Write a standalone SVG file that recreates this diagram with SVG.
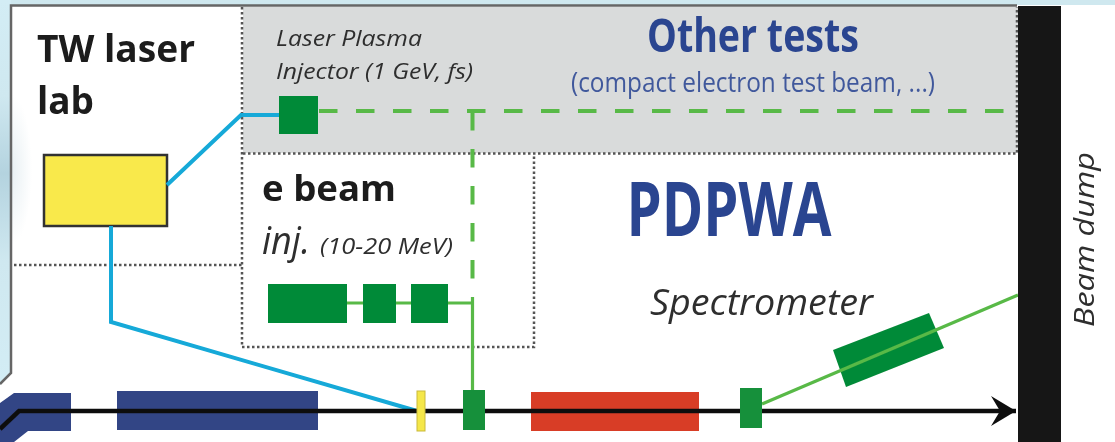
<svg xmlns="http://www.w3.org/2000/svg" width="1115" height="442" viewBox="0 0 1115 442">
<defs>
<linearGradient id="sky" x1="0" x2="0" y1="0" y2="1"><stop offset="0" stop-color="#d3edf5"/><stop offset="0.25" stop-color="#cfe8f0"/><stop offset="0.45" stop-color="#b4d3df"/><stop offset="0.68" stop-color="#cfe8f0"/><stop offset="1" stop-color="#d3edf5"/></linearGradient>
<radialGradient id="glow" cx="0" cy="0.5" r="0.5"><stop offset="0" stop-color="#e8f0f3"/><stop offset="1" stop-color="#fff"/></radialGradient>
<marker id="arrow" markerUnits="userSpaceOnUse" markerWidth="27" markerHeight="32" refX="25" refY="15" orient="auto"><path d="M0 0 L25 15 L0 30 L9 15 Z" fill="#111"/></marker>
<filter id="soft" x="0" y="0" width="1115" height="442" filterUnits="userSpaceOnUse"><feGaussianBlur stdDeviation="0.55"/></filter>
</defs>
<style>
.sans{font-family:"Open Sans","Noto Sans","Liberation Sans",sans-serif}
.cond{fill:#2b4590;font-weight:700}
.bold{font-weight:700;fill:#1a1a1a}
.ital{font-style:italic;fill:#2e2e2e}
.dot{fill:none;stroke:#555;stroke-width:2.5;stroke-dasharray:2.5 2.5}
.green{fill:#068a38}
.gline{fill:none;stroke:#58b947;stroke-width:3.2}
.gdash{fill:none;stroke:#58b947;stroke-width:4;stroke-dasharray:18.500 18.500}
.blue{fill:none;stroke:#12a9d8;stroke-width:4}
.navy{fill:#334485}
</style>
<g filter="url(#soft)">
<rect width="1115" height="442" fill="#fff"/>
<rect width="1115" height="5" fill="#cfe8ef"/>
<path d="M0 0H11V372L0 385Z" fill="url(#sky)"/>
<rect x="12" y="95" width="40" height="150" fill="url(#glow)"/>
<g id="frame"><path d="M1017 5.500H11V373L0 384" fill="none" stroke="#666" stroke-width="2.500"/></g>
<g id="other-tests">
<rect x="243" y="7" width="775" height="146" fill="#d9dbdb"/>
<text x="753" y="52" text-anchor="middle" class="sans cond" font-size="46" textLength="212" lengthAdjust="spacingAndGlyphs">Other tests</text>
<text x="753" y="92" text-anchor="middle" class="sans" fill="#41599c" font-size="27" textLength="364" lengthAdjust="spacingAndGlyphs">(compact electron test beam, ...)</text>
</g>
<g id="region-lines">
<path class="dot" d="M242 7V347H534V154"/>
<path class="dot" d="M243 153.500H1017V7"/>
<path class="dot" d="M14 265H242"/>
</g>
<g id="tw-laser-lab">
<text x="37" y="62" class="sans bold" font-size="37" textLength="158" lengthAdjust="spacingAndGlyphs">TW laser</text>
<text x="37" y="114" class="sans bold" font-size="37" textLength="57" lengthAdjust="spacingAndGlyphs">lab</text>
<rect x="44" y="155" width="123" height="71" fill="#f9e94c" stroke="#333" stroke-width="2.500"/>
</g>
<g id="laser-plasma-injector">
<text x="276" y="46" class="sans ital" font-size="22" textLength="146" lengthAdjust="spacingAndGlyphs">Laser Plasma</text>
<text x="276" y="79" class="sans ital" font-size="22" textLength="197" lengthAdjust="spacingAndGlyphs">Injector (1 GeV, fs)</text>
<rect x="279" y="96" width="39" height="38" class="green"/>
</g>
<g id="e-beam-injector">
<text x="262" y="201" class="sans bold" font-size="36" textLength="134" lengthAdjust="spacingAndGlyphs">e beam</text>
<text x="262" y="254" class="sans ital" font-size="38" textLength="48" lengthAdjust="spacingAndGlyphs">inj.</text>
<text x="320" y="254" class="sans ital" font-size="21" textLength="133" lengthAdjust="spacingAndGlyphs">(10-20 MeV)</text>
<rect x="268" y="284" width="79" height="39" class="green"/>
<rect x="363" y="284" width="33" height="39" class="green"/>
<rect x="411" y="284" width="37" height="39" class="green"/>
</g>
<g id="pdpwa"><text x="729" y="236" text-anchor="middle" class="sans cond" font-size="75" textLength="205" lengthAdjust="spacingAndGlyphs">PDPWA</text></g>
<g id="spectrometer">
<text x="650" y="315" class="sans ital" font-size="36" textLength="223" lengthAdjust="spacingAndGlyphs">Spectrometer</text>
<polygon points="833,350 929,313 944,348 846,387" class="green"/>
</g>
<g id="beamline">
<path class="navy" d="M0 403L14 393H71V431H28L14 442H0Z"/>
<rect x="117" y="391" width="201" height="39" class="navy"/>
<rect x="531" y="392" width="168" height="39" fill="#d83d26"/>
</g>
<g id="connectors">
<path class="blue" d="M167 185L241 115H279"/>
<path class="blue" d="M111 226V322L417 411"/>
<path class="gdash" d="M319 111H1006"/>
<path class="gdash" d="M472.500 112V279"/>
<path class="gline" d="M347 303H363M396 303H411M448 303H472.500V297M472.500 297V391"/>
<path class="gline" d="M762 404L1018 295"/>
<path d="M0 429L19 411H1016" fill="none" stroke="#111" stroke-width="4.500" marker-end="url(#arrow)"/>
</g>
<g id="beam-elements">
<rect x="417" y="391" width="8" height="40" fill="#f5e74a" stroke="#c9b93a"/>
<rect x="463" y="390" width="22" height="40" fill="#18903a"/>
<rect x="740" y="388" width="22" height="40" fill="#18903a"/>
</g>
<g id="beam-dump">
<rect x="1018" y="6" width="43" height="436" fill="#141414"/>
<text transform="translate(1094 327) rotate(-90)" class="sans ital" font-size="27" textLength="175" lengthAdjust="spacingAndGlyphs">Beam dump</text>
</g>
</g>
</svg>
